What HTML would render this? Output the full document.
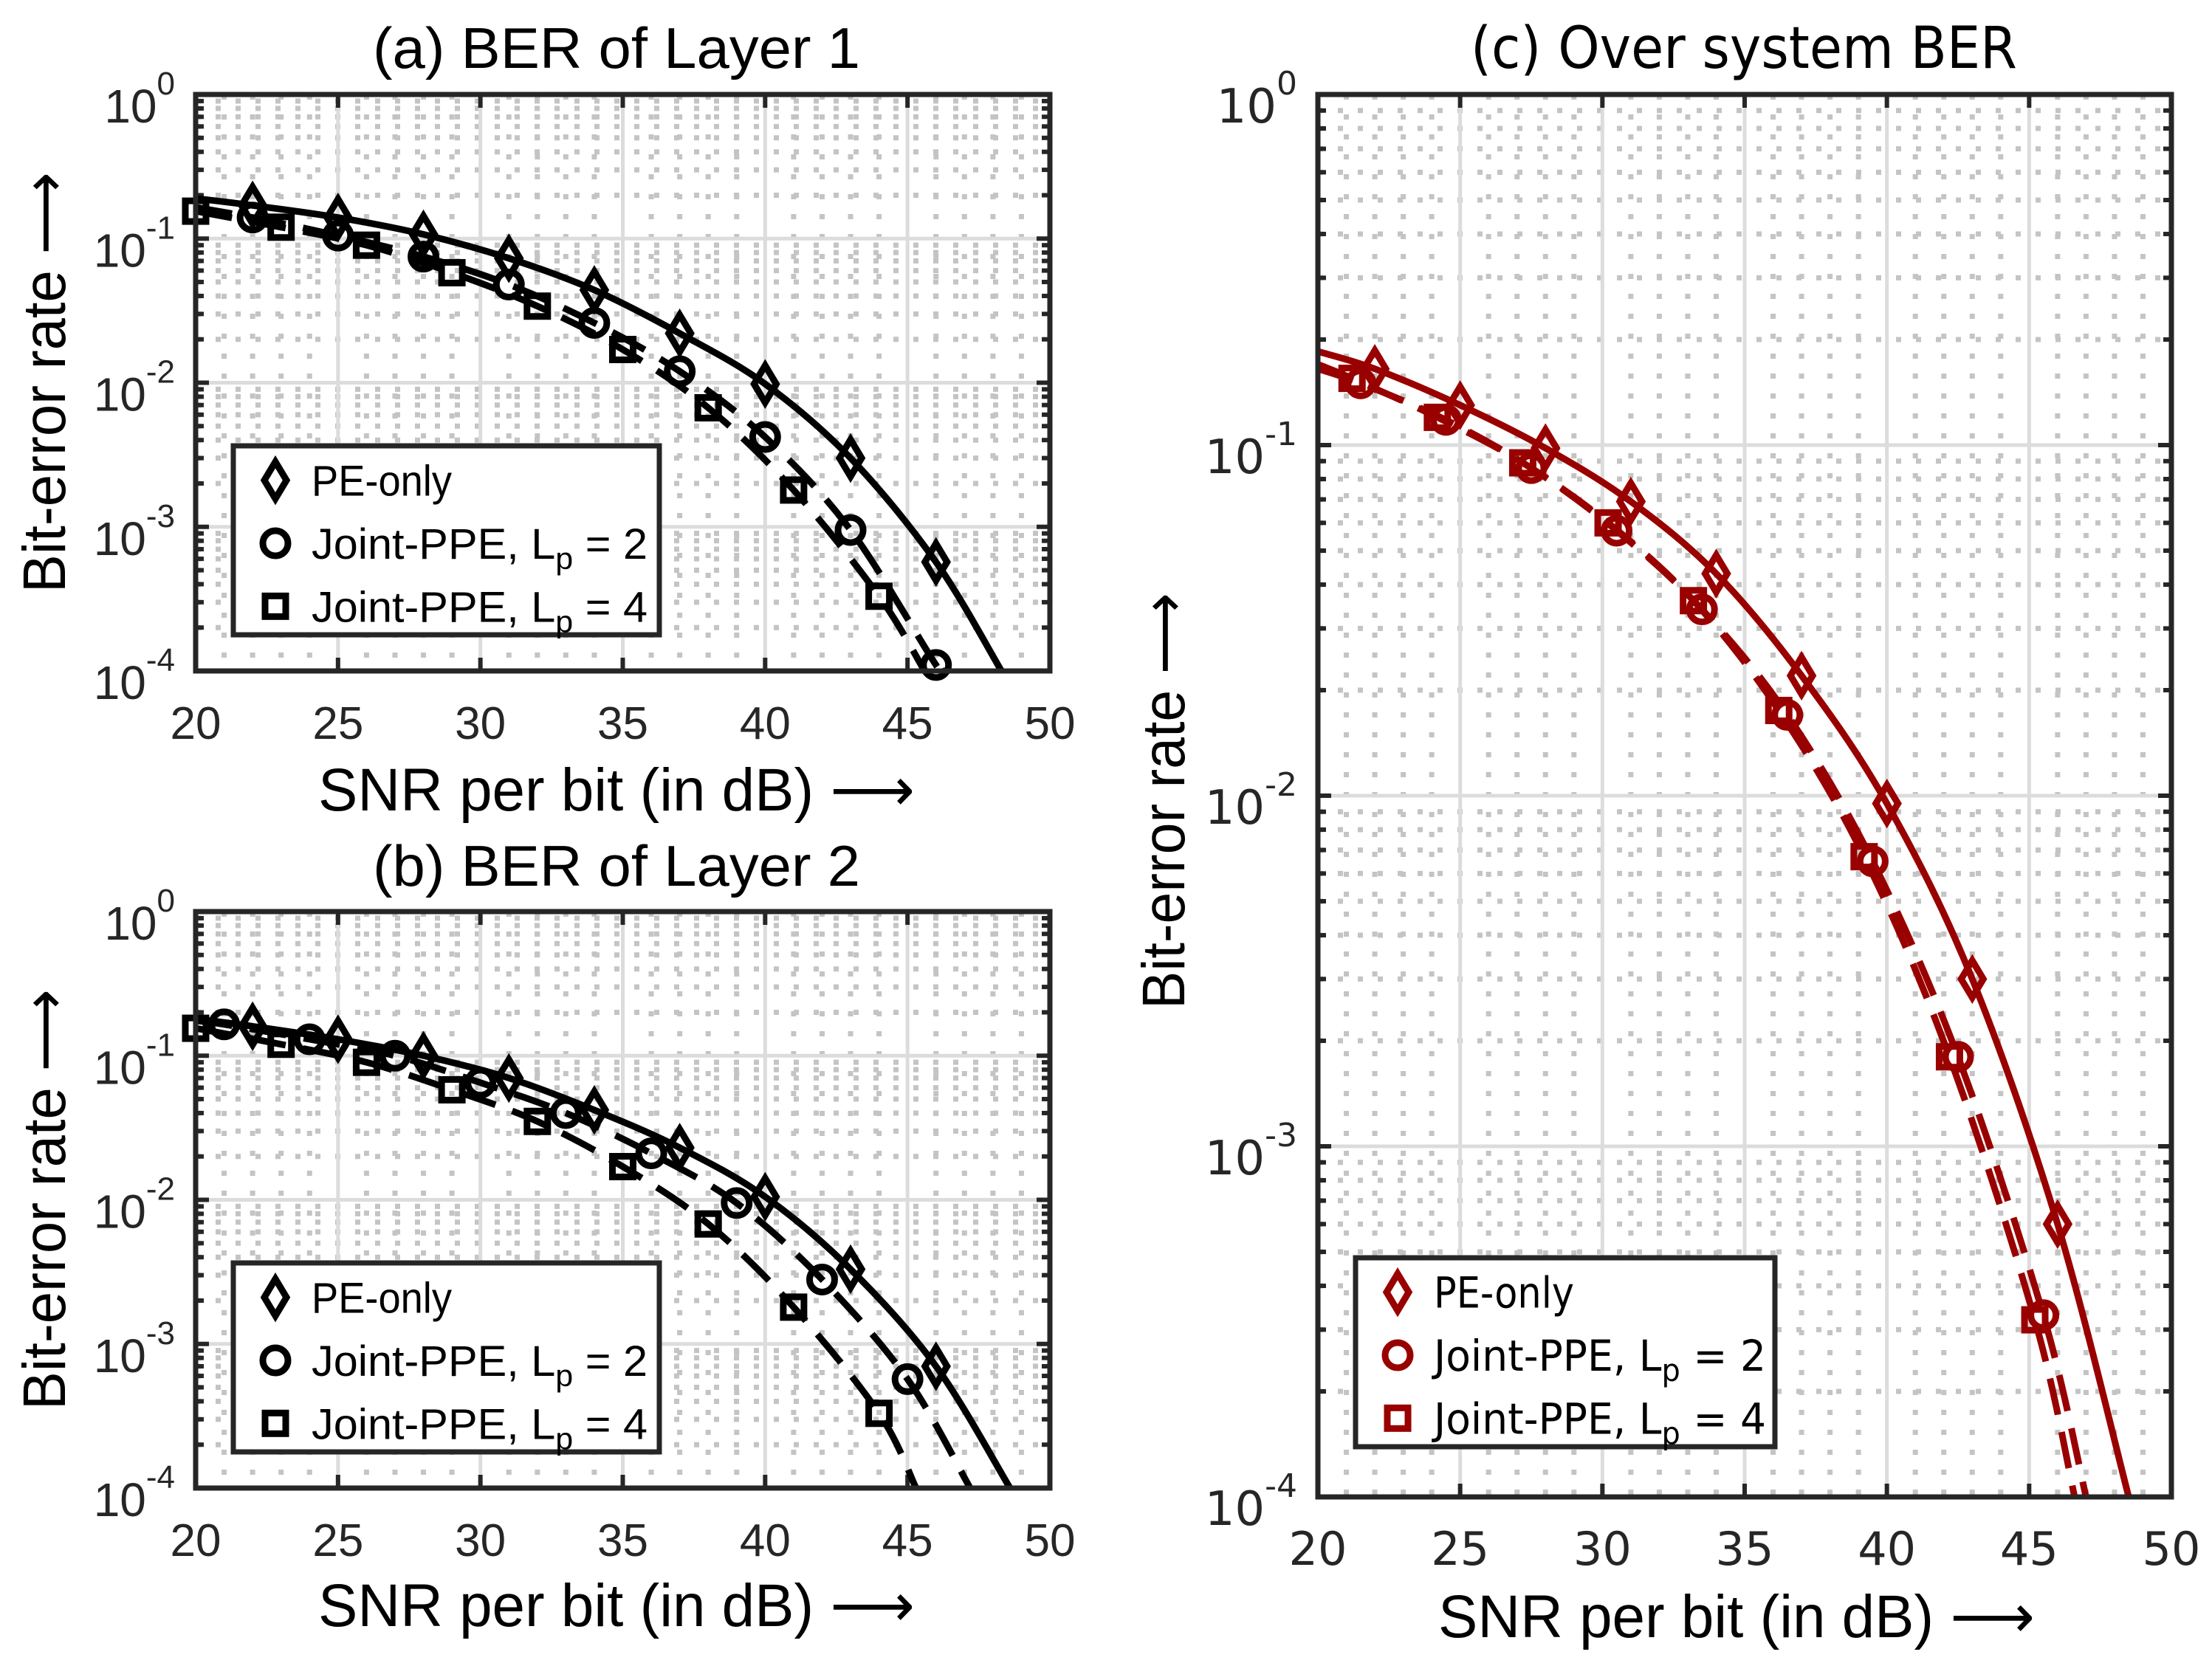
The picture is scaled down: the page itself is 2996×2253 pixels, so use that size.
<!DOCTYPE html>
<html><head><meta charset="utf-8">
<style>
html,body{margin:0;padding:0;background:#fff;}
svg{display:block;}
text{font-family:"Liberation Sans","DejaVu Sans",sans-serif;}
</style></head>
<body>
<svg id="fig" xmlns="http://www.w3.org/2000/svg" width="2996" height="2253" viewBox="0 0 2996 2253"></svg>
<script>
// ---- data ----
const xTicks = [20,25,30,35,40,45,50];
const yTickExps = [0,-1,-2,-3,-4];

const aPeX = [22,25,28,31,34,37,40,43,46];
const aPeY = [0.17,0.14,0.107,0.073,0.044,0.022,0.0098,0.0030,0.00057];
const aC2X = [22,25,28,31,34,37,40,43,46];
const aC2Y = [0.14,0.105,0.075,0.048,0.026,0.012,0.0042,0.00095,0.00011];
const aC4X = [20,23,26,29,32,35,38,41,44];
const aC4Y = [0.155,0.12,0.09,0.058,0.034,0.017,0.0067,0.0018,0.00033];
const aLinePeX = [20,22,25,28,31,34,37,40,43,46,48.3];
const aLinePeY = [0.19,0.17,0.14,0.107,0.073,0.044,0.022,0.0098,0.0030,0.00057,0.0001];
const aLineC2X = [20,22,25,28,31,34,37,40,43,46,46.3];
const aLineC2Y = [0.165,0.14,0.105,0.075,0.048,0.026,0.012,0.0042,0.00095,0.00011,0.0001];
const aLineC4X = [20,23,26,29,32,35,38,41,44,45.6];
const aLineC4Y = [0.155,0.12,0.09,0.058,0.034,0.017,0.0067,0.0018,0.00033,0.0001];

const bPeX = [22,25,28,31,34,37,40,43,46];
const bPeY = [0.16,0.13,0.1,0.07,0.042,0.023,0.0105,0.0033,0.0007];
const bC2X = [21,24,27,30,33,36,39,42,45];
const bC2Y = [0.165,0.13,0.1,0.065,0.04,0.021,0.0095,0.0028,0.00057];
const bC4X = [20,23,26,29,32,35,38,41,44];
const bC4Y = [0.155,0.12,0.09,0.058,0.035,0.017,0.0068,0.0018,0.00033];
const bLinePeX = [20,22,25,28,31,34,37,40,43,46,48.6];
const bLinePeY = [0.18,0.16,0.13,0.1,0.07,0.042,0.023,0.0105,0.0033,0.0007,0.0001];
const bLineC2X = [20,21,24,27,30,33,36,39,42,45,47.2];
const bLineC2Y = [0.175,0.165,0.13,0.1,0.065,0.04,0.021,0.0095,0.0028,0.00057,0.0001];
const bLineC4X = [20,23,26,29,32,35,38,41,44,45.3];
const bLineC4Y = [0.155,0.12,0.09,0.058,0.035,0.017,0.0068,0.0018,0.00033,0.0001];

const cPeX = [22,25,28,31,34,37,40,43,46];
const cPeY = [0.165,0.13,0.098,0.069,0.043,0.022,0.0095,0.003,0.0006];
const cC2X = [21.5,24.5,27.5,30.5,33.5,36.5,39.5,42.5,45.5];
const cC2Y = [0.15,0.118,0.086,0.057,0.034,0.017,0.0065,0.0018,0.00033];
const cC4X = [21.2,24.2,27.2,30.2,33.2,36.2,39.2,42.2,45.2];
const cC4Y = [0.155,0.12,0.089,0.06,0.036,0.0175,0.0067,0.0018,0.00032];
const cLinePeX = [20,22,25,28,31,34,37,40,43,46,48.5];
const cLinePeY = [0.185,0.165,0.13,0.098,0.069,0.043,0.022,0.0095,0.003,0.0006,0.0001];
const cLineC2X = [20,21.5,24.5,27.5,30.5,33.5,36.5,39.5,42.5,45.5,47.0];
const cLineC2Y = [0.165,0.15,0.118,0.086,0.057,0.034,0.017,0.0065,0.0018,0.00033,0.0001];
const cLineC4X = [20,21.2,24.2,27.2,30.2,33.2,36.2,39.2,42.2,45.2,46.6];
const cLineC4Y = [0.17,0.155,0.12,0.089,0.06,0.036,0.0175,0.0067,0.0018,0.00032,0.0001];

const NS = "http://www.w3.org/2000/svg";
const svg = document.getElementById('fig');
function mk(tag, attrs, parent){
  const e = document.createElementNS(NS, tag);
  for (const k in attrs) e.setAttribute(k, attrs[k]);
  (parent||svg).appendChild(e);
  return e;
}

function panel(id, L, R, T, B, color, title, titleFont, series, legend, ylabC, xlabY, titleY, geo){
  const g = mk('g', {});
  
  
  const xs = v => L + (v - 20) / 30 * (R - L);
  const ys = v => T + (-Math.log10(v)) / 4 * (B - T);
  const ysE = e => T + (-e) / 4 * (B - T);
  const minor = mk('g', {stroke:'#c4c4c4','stroke-width':7,'stroke-dasharray':'7,20',fill:'none'}, g);
  
  
  for (let d = 21; d < 50; d++) { if (d % 5 === 0) continue;
    mk('line', {x1:xs(d), y1:T, x2:xs(d), y2:B}, minor); }
  for (let e = 0; e > -4; e--) for (let m = 2; m <= 9; m++) {
    const y = ys(m * Math.pow(10, e - 1));
    mk('line', {x1:L, y1:y, x2:R, y2:y}, minor); }
  const major = mk('g', {stroke:'#dcdcdc','stroke-width':5}, g);
  
  
  xTicks.forEach(t => { if (t > 20 && t < 50) mk('line', {x1:xs(t), y1:T, x2:xs(t), y2:B}, major); });
  yTickExps.forEach(e => { if (e < 0 && e > -4) mk('line', {x1:L, y1:ysE(e), x2:R, y2:ysE(e)}, major); });
  const tk = mk('g', {stroke:'#262626','stroke-width':6}, g);
  xTicks.forEach(t => { mk('line', {x1:xs(t), y1:B, x2:xs(t), y2:B-18}, tk); mk('line', {x1:xs(t), y1:T, x2:xs(t), y2:T+18}, tk); });
  for (let e = 0; e > -4; e--) for (let m = 2; m <= 9; m++) {
    const y = ys(m * Math.pow(10, e - 1));
    mk('line', {x1:L, y1:y, x2:L+11, y2:y}, tk); mk('line', {x1:R, y1:y, x2:R-11, y2:y}, tk); }
  yTickExps.forEach(e => { mk('line', {x1:L, y1:ysE(e), x2:L+18, y2:ysE(e)}, tk); mk('line', {x1:R, y1:ysE(e), x2:R-18, y2:ysE(e)}, tk); });
  xTicks.forEach(t => {
    const tx = mk('text', {x:xs(t), y:B+92, 'font-size':62, 'text-anchor':'middle', fill:'#262626', style:'font-family:'+titleFont}, g);
    tx.textContent = t;
    
    
  });
  yTickExps.forEach(e => {
    const tx = mk('text', {x:L-28, y:ysE(e)+38, 'font-size':64, 'text-anchor':'end', fill:'#262626', style:'font-family:'+titleFont}, g);
    const s1 = mk('tspan', {}, tx); s1.textContent = '10';
    const s2 = mk('tspan', {dy:-38, 'font-size':44}, tx); s2.textContent = e === 0 ? '0' : '-' + (-e);
    
    
  });
  function pathOf(X, Y){
    const p = X.map((x,i) => [xs(x), ys(Y[i])]);
    let d = 'M' + p[0][0] + ',' + p[0][1];
    for (let i = 0; i < p.length - 1; i++) {
      const p0 = p[i-1] || p[i], p1 = p[i], p2 = p[i+1], p3 = p[i+2] || p2;
      const c1 = [p1[0] + (p2[0]-p0[0])/6, p1[1] + (p2[1]-p0[1])/6];
      const c2 = [p2[0] - (p3[0]-p1[0])/6, p2[1] - (p3[1]-p1[1])/6];
      d += ' C' + c1 + ' ' + c2 + ' ' + p2;
    }
    return d;
  }
  const clipId = 'clip' + id;
  const cp = mk('clipPath', {id:clipId}, g);
  mk('rect', {x:L, y:T, width:R-L, height:B-T}, cp);
  const sg = mk('g', {'clip-path':'url(#'+clipId+')'}, g);
  series.forEach(s => {
    const ln = mk('path', {d:pathOf(s.lx, s.ly), fill:'none', stroke:color, 'stroke-width':9, 'stroke-dasharray': s.dash ? '50,24' : 'none'}, sg);
    
    
  });
  function marker(kind, x, y, parent){
    let m;
    if (kind === 'd') m = mk('path', {d:`M${x},${y-25} L${x+15},${y} L${x},${y+25} L${x-15},${y} Z`, fill:'none', stroke:color, 'stroke-width':9}, parent);
    else if (kind === 'o') m = mk('circle', {cx:x, cy:y, r:17, fill:'none', stroke:color, 'stroke-width':9}, parent);
    else m = mk('rect', {x:x-14, y:y-14, width:28, height:28, fill:'none', stroke:color, 'stroke-width':9}, parent);
    return m;
  }
  series.forEach(s => {
    s.mx.forEach((x,i) => {
      const m = marker(s.kind, xs(x), ys(s.my[i]), g);
      
      
    });
  });
  const fr = mk('rect', {x:L, y:T, width:R-L, height:B-T, fill:'none', stroke:'#262626', 'stroke-width':7}, g);
  
  
  const lg = mk('g', {}, g);
  
  
  mk('rect', {x:legend.x, y:legend.y, width:legend.w, height:legend.h, fill:'#fff', stroke:'#262626', 'stroke-width':7}, lg);
  const labels = ['PE-only','Joint-PPE, L','Joint-PPE, L'];
  const kinds = ['d','o','s'];
  const nums = ['', '2', '4'];
  for (let i = 0; i < 3; i++) {
    const cy = legend.y + legend.h * (1 + 2*i) / 6 + 4;
    const m = marker(kinds[i], legend.x + 57, cy, lg);
    
    
    const attrs = {x:legend.x + 106, y:cy + 21, 'font-size':58, fill:'#000', style:'font-family:'+titleFont};
    if (i > 0) { attrs.textLength = legend.tl; attrs.lengthAdjust = 'spacingAndGlyphs'; }
    else { attrs.textLength = legend.tl0; attrs.lengthAdjust = 'spacingAndGlyphs'; }
    const t = mk('text', attrs, lg);
    const a = mk('tspan', {}, t); a.textContent = labels[i];
    if (i > 0) {
      const sb = mk('tspan', {dy:14, 'font-size':42}, t); sb.textContent = 'p';
      const c = mk('tspan', {dy:-14}, t); c.textContent = ' = ' + nums[i];
    }
    
    
  }
  const tt = mk('text', {x:geo.tc, y:titleY, 'font-size':78, 'text-anchor':'middle', fill:'#000', style:'font-family:'+titleFont, textLength:geo.tw, lengthAdjust:'spacingAndGlyphs'}, g);
  tt.textContent = title;
  
  
  const xl = mk('text', {x:geo.xc, y:xlabY, 'font-size':82, 'text-anchor':'middle', fill:'#000', textLength:808, lengthAdjust:'spacingAndGlyphs'}, g);
  xl.textContent = 'SNR per bit (in dB) \u27F6';
  
  
  const yl = mk('text', {x:0, y:0, 'font-size':82, 'text-anchor':'middle', fill:'#000', transform:`translate(${ylabC[0]},${ylabC[1]}) rotate(-90)`, textLength:geo.yw, lengthAdjust:'spacingAndGlyphs'}, g);
  yl.textContent = 'Bit-error rate \u27F6';
  
  
}

panel('a', 265, 1422, 128, 909, '#000', '(a) BER of Layer 1', '"Liberation Sans",sans-serif', [
  {name:'pe-only', kind:'d', mx:aPeX, my:aPeY, lx:aLinePeX, ly:aLinePeY, dash:false},
  {name:'joint-lp2', kind:'o', mx:aC2X, my:aC2Y, lx:aLineC2X, ly:aLineC2Y, dash:true},
  {name:'joint-lp4', kind:'s', mx:aC4X, my:aC4Y, lx:aLineC4X, ly:aLineC4Y, dash:true}
], {x:316, y:604, w:577, h:256, tl:455, tl0:190}, [88, 518], 1098, 92, {tc:835, tw:660, xc:835, yw:570});

panel('b', 265, 1422, 1235, 2016, '#000', '(b) BER of Layer 2', '"Liberation Sans",sans-serif', [
  {name:'pe-only', kind:'d', mx:bPeX, my:bPeY, lx:bLinePeX, ly:bLinePeY, dash:false},
  {name:'joint-lp2', kind:'o', mx:bC2X, my:bC2Y, lx:bLineC2X, ly:bLineC2Y, dash:true},
  {name:'joint-lp4', kind:'s', mx:bC4X, my:bC4Y, lx:bLineC4X, ly:bLineC4Y, dash:true}
], {x:316, y:1711, w:577, h:256, tl:455, tl0:190}, [88, 1625], 2203, 1200, {tc:835, tw:660, xc:835, yw:570});

panel('c', 1785, 2941, 128, 2028, '#990000', '(c) Over system BER', '"DejaVu Sans",sans-serif', [
  {name:'pe-only', kind:'d', mx:cPeX, my:cPeY, lx:cLinePeX, ly:cLinePeY, dash:false},
  {name:'joint-lp2', kind:'o', mx:cC2X, my:cC2Y, lx:cLineC2X, ly:cLineC2Y, dash:true},
  {name:'joint-lp4', kind:'s', mx:cC4X, my:cC4Y, lx:cLineC4X, ly:cLineC4Y, dash:true}
], {x:1836, y:1704, w:568, h:256, tl:450, tl0:190}, [1604, 1085], 2218, 92, {tc:2362, tw:740, xc:2352, yw:564});
</script>
</body></html>
